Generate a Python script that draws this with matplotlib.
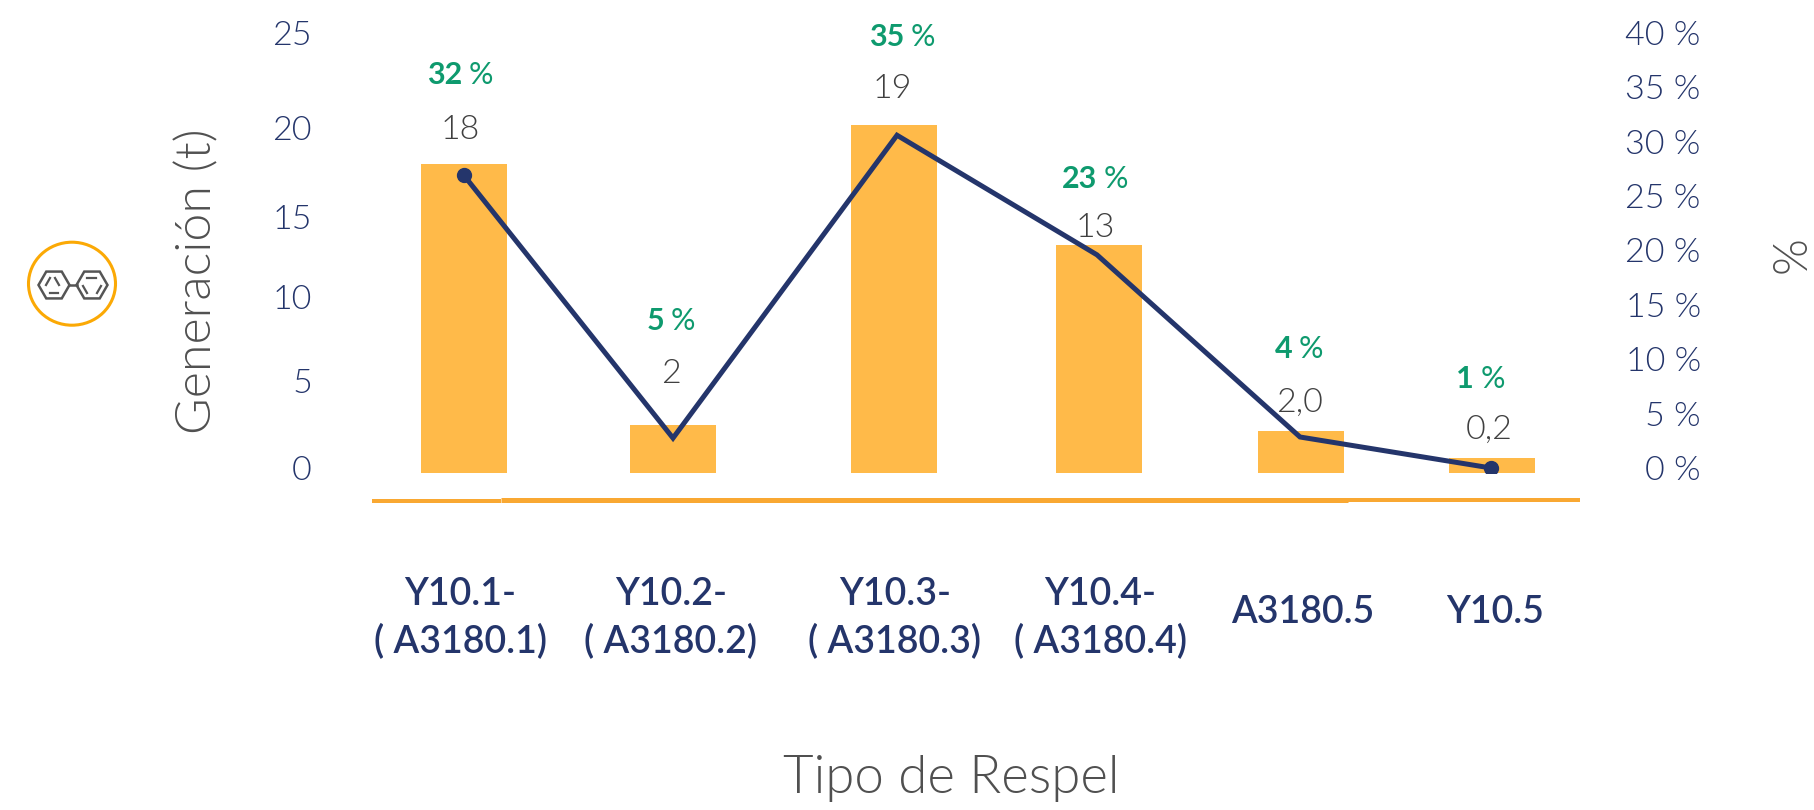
import numpy as np
import matplotlib
matplotlib.use("Agg")
import matplotlib.pyplot as plt
from matplotlib.patches import Ellipse, RegularPolygon

# --- data ---
categories = ["Y10.1-\n( A3180.1)", "Y10.2-\n( A3180.2)", "Y10.3-\n( A3180.3)",
              "Y10.4-\n( A3180.4)", "A3180.5", "Y10.5"]
bar_values = [17.55, 2.75, 19.75, 12.95, 2.4, 0.85]   # drawn height on left axis
line_values = [26.9, 2.75, 30.6, 19.6, 2.85, 0.0]     # drawn height on right axis
value_labels = ["18", "2", "19", "13", "2,0", "0,2"]
pct_numbers = ["32", "5", "35", "23", "4", "1"]
left_tick_labels = ["0", "5", "10", "15", "20", "25"]
left_tick_values = [0.3, 5.2, 10.0, 14.55, 19.6, 25.0]  # irregular spacing as drawn
right_tick_values = [0, 5, 10, 15, 20, 25, 30, 35, 40]

# --- layout (pixels of the 1814x810 canvas) ---
W, H = 1814, 810
AX_L, AX_R, AX_T, AX_B = 373, 1580, 33, 473
bar_x = [464, 673, 894, 1099, 1301, 1492]
line_x = [464, 673, 897, 1097, 1300, 1491]
label_x = [460, 671, 895, 1100, 1303, 1495]
value_xy = [(460, 130), (671, 374), (892, 89), (1095, 228), (1299, 403), (1489, 430)]
pct_xy = [(460, 73), (671, 319), (902, 35), (1095, 177), (1299, 346), (1481, 377)]

NAVY, ORANGE, RULE, GREEN, GREY = "#24356B", "#FFBA49", "#F9A832", "#0E9A6E", "#404040"
TITLE = "#505050"
ICON = "#555555"
LIGHT = 300
FONT = "Lato"
plt.rcParams["font.family"] = [FONT, "DejaVu Sans"]

fig = plt.figure(figsize=(W / 100, H / 100), dpi=100)
ax = fig.add_axes([AX_L / W, 1 - AX_B / H, (AX_R - AX_L) / W, (AX_B - AX_T) / H])
ax.set_xlim(AX_L, AX_R)
ax.set_ylim(0, 25)
ax.bar(bar_x, bar_values, width=86, color=ORANGE, linewidth=0)
for s in ax.spines.values():
    s.set_visible(False)
ax.set_yticks(left_tick_values, left_tick_labels)
ax.tick_params(axis="y", length=0, pad=44, labelsize=24.5, labelcolor=NAVY)
for t in ax.get_yticklabels():
    t.set_fontweight(LIGHT)
ax.set_xticks(label_x, categories)
ax.tick_params(axis="x", length=0, pad=105, labelsize=27, labelcolor=NAVY)
for t in ax.get_xticklabels():
    t.set_va("center")
    t.set_linespacing(1.4)
    t.set_fontweight(600)
for t in ax.get_xticklabels()[4:]:
    t.set_y(6 / (AX_B - AX_T))

ax2 = ax.twinx()
ax2.set_ylim(-0.46, 40)
ax2.plot(line_x, line_values, color=NAVY, lw=3.6, marker="o", ms=10,
         markevery=[0, 5], solid_joinstyle="miter")
for s in ax2.spines.values():
    s.set_visible(False)
ax2.set_yticks(right_tick_values, [f"{v} %" for v in right_tick_values])
ax2.tick_params(axis="y", length=0, pad=87, labelsize=24.5, labelcolor=NAVY)
for t in ax2.get_yticklabels():
    t.set_ha("right")
    t.set_fontweight(LIGHT)

# overlay in pixel coordinates
ov = fig.add_axes([0, 0, 1, 1], facecolor="none")
ov.set_xlim(0, W)
ov.set_ylim(H, 0)
ov.axis("off")

# baseline rule, drawn in slightly offset pieces
for x0, x1, y, lw in [(372, 501, 500.7, 4), (501, 1348, 500.2, 5), (1348, 1580, 500, 4)]:
    ov.plot([x0, x1], [y, y], color=RULE, lw=lw * 0.72, solid_capstyle="butt")

# value labels
for (x, y), s in zip(value_xy, value_labels):
    ov.text(x, y, s, ha="center", va="center", fontsize=24.5, color=GREY, fontweight=LIGHT)

# percentage labels: bold number + regular sign
renderer = fig.canvas.get_renderer()
for (x, y), s in zip(pct_xy, pct_numbers):
    a = ov.text(0, y, s, ha="left", va="center_baseline", fontsize=22, color=GREEN, fontweight="bold")
    b = ov.text(0, y, "%", ha="left", va="center_baseline", fontsize=22, color=GREEN)
    wa = a.get_window_extent(renderer).width
    wb = b.get_window_extent(renderer).width
    gap = 7
    start = x - (wa + gap + wb) / 2
    a.set_x(start)
    b.set_x(start + wa + gap)

# axis titles
ov.text(198, 281, "Generación (t)", rotation=90, ha="center", va="center", fontsize=36,
        color=TITLE, fontweight=LIGHT)
ov.text(951, 778, "Tipo de Respel", ha="center", va="center", fontsize=38,
        color=TITLE, fontweight=LIGHT)
ov.text(1793, 255, "%", rotation=90, ha="center", va="center", fontsize=34,
        color=TITLE, fontweight=LIGHT)

# icon
ov.add_patch(Ellipse((72, 283.7), 87, 83, fill=False, ec="#FBA905", lw=2.2))
for cx in (54, 92):
    ov.add_patch(RegularPolygon((cx, 285), 6, radius=15.5, orientation=np.pi / 6,
                                fill=False, ec=ICON, lw=1.8))
ov.plot([69, 77], [285, 285], color=ICON, lw=1.8)
for (x0, y0, x1, y1) in [(46, 285, 50, 278), (55, 278, 59, 285), (50, 293, 58, 293),
                         (87, 278, 96, 278), (83, 286, 87, 293), (97, 293, 101, 286)]:
    ov.plot([x0, x1], [y0, y1], color=ICON, lw=1.6)

fig.savefig("out.png", dpi=100)
